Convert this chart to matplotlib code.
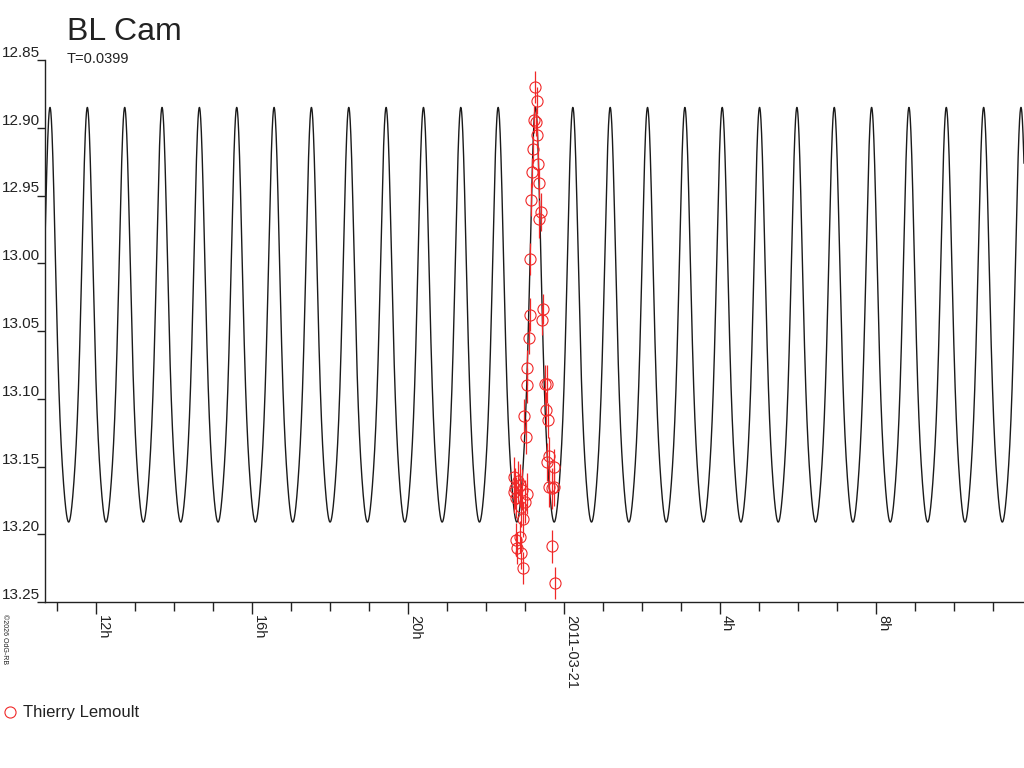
import numpy as np
import matplotlib
matplotlib.use("Agg")
import matplotlib.pyplot as plt
from matplotlib.ticker import MultipleLocator, FuncFormatter
from matplotlib.lines import Line2D

plt.rcParams['font.family'] = ['Liberation Sans', 'DejaVu Sans']

# time axis: hours since 2011-03-20 00:00 UT
star = "BL Cam"
period_days = 0.0399
epoch_max_h = 10.82          # a light maximum
mag_mean = 13.070
harm_amp = [0.145, 0.032, 0.008]   # cosine harmonics of the model curve

observer = "Thierry Lemoult"
obs_hours = [23.256, 23.315, 23.238, 23.282, 23.300, 23.213, 23.341, 23.179,
             23.351, 23.162, 23.403, 23.367, 23.136, 23.454, 23.444, 23.120,
             23.103, 23.059, 23.044, 23.521, 23.556, 23.531, 23.597, 22.982,
             23.018, 23.605, 23.564, 23.744, 23.623, 23.751, 23.685, 22.718,
             22.708, 22.872, 23.044, 22.769, 23.000, 22.890, 22.956, 22.769,
             22.872, 22.787, 22.890, 22.956, 23.685, 23.769, 22.735, 22.826,
             22.928]
obs_mag = [12.870, 12.880, 12.894, 12.896, 12.905, 12.916, 12.927, 12.933,
           12.941, 12.953, 12.962, 12.967, 12.997, 13.034, 13.042, 13.038,
           13.055, 13.077, 13.090, 13.089, 13.089, 13.108, 13.116, 13.113,
           13.128, 13.142, 13.147, 13.150, 13.165, 13.165, 13.166, 13.158,
           13.169, 13.164, 13.170, 13.173, 13.176, 13.180, 13.189, 13.204,
           13.202, 13.210, 13.214, 13.225, 13.209, 13.236, 13.166, 13.161,
           13.167]
obs_err = [0.012, 0.010, 0.010, 0.010, 0.010, 0.010, 0.011, 0.011,
           0.011, 0.012, 0.014, 0.014, 0.012, 0.011, 0.011, 0.012,
           0.012, 0.013, 0.013, 0.014, 0.014, 0.013, 0.013, 0.013,
           0.013, 0.014, 0.014, 0.013, 0.015, 0.014, 0.015, 0.015,
           0.015, 0.016, 0.015, 0.015, 0.016, 0.015, 0.013, 0.012,
           0.012, 0.012, 0.012, 0.012, 0.012, 0.012, 0.015, 0.015,
           0.015]

x_min, x_max = 10.692, 35.795
y_top, y_bot = 12.85, 13.25

fig = plt.figure(figsize=(10.24, 7.68), dpi=100)
ax = fig.add_axes([45 / 1024, 1 - 602 / 768, 1 - 45 / 1024, 542 / 768])

# model light curve
t = np.linspace(x_min, x_max, 6000)
phase = 2 * np.pi * (t - epoch_max_h) / (period_days * 24)
model = np.full_like(t, mag_mean)
for k, a in enumerate(harm_amp, start=1):
    model -= a * np.cos(k * phase)
ax.plot(t, model, color='#1a1a1a', lw=1.0, zorder=2)

# observations
red = '#f02828'
ax.errorbar(obs_hours, obs_mag, yerr=obs_err, fmt='o', ms=8, mfc='none',
            mec=red, mew=0.8, ecolor=red, elinewidth=0.9, capsize=0, zorder=3)

ax.set_xlim(x_min, x_max)
ax.set_ylim(y_bot, y_top)

for s in ['top', 'right']:
    ax.spines[s].set_visible(False)
for s in ['left', 'bottom']:
    ax.spines[s].set_color('#222222')
    ax.spines[s].set_linewidth(1.0)

ax.yaxis.set_major_locator(MultipleLocator(0.05))
ax.yaxis.set_major_formatter(FuncFormatter(lambda v, p: f"{v:.2f}"))
ax.tick_params(axis='y', direction='out', length=5.8, width=1.0,
               color='#222222', labelsize=11, labelcolor='#222222', pad=-2)
for lab in ax.get_yticklabels():
    lab.set_verticalalignment('bottom')


def hour_label(v, p):
    h = int(round(v)) % 24
    if h == 0:
        return "2011-03-21"
    return f"{h}h"


ax.xaxis.set_major_locator(MultipleLocator(4))
ax.xaxis.set_minor_locator(MultipleLocator(1))
ax.xaxis.set_major_formatter(FuncFormatter(hour_label))
ax.tick_params(axis='x', which='major', direction='out', length=8.6, width=1.0,
               color='#222222', labelsize=10.5, labelcolor='#222222', pad=0.7,
               labelrotation=-90)
ax.tick_params(axis='x', which='minor', direction='out', length=6.5, width=1.0,
               color='#222222')
for lab in ax.get_xticklabels():
    lab.set_horizontalalignment('left')

fig.text(67 / 1024, 1 - 40 / 768, star, fontsize=23, color='#222222',
         va='baseline')
fig.text(67 / 1024, 1 - 63 / 768, f"T={period_days}", fontsize=10.5,
         color='#222222', va='baseline')
fig.text(1 / 1024, 1 - 614 / 768, "©2026 OdG-RB", fontsize=5, rotation=-90,
         ha='left', va='top', color='#222222')

handle = Line2D([], [], marker='o', ls='none', ms=8, mfc='none', mec=red,
                mew=0.8)
fig.legend([handle], [observer], loc='center left',
           bbox_to_anchor=(0.002, 1 - 713 / 768), frameon=False, borderpad=0,
           borderaxespad=0, handlelength=1.0, handletextpad=0.25,
           prop={'size': 12}, labelcolor='#222222')

fig.savefig("out.png", dpi=100)
